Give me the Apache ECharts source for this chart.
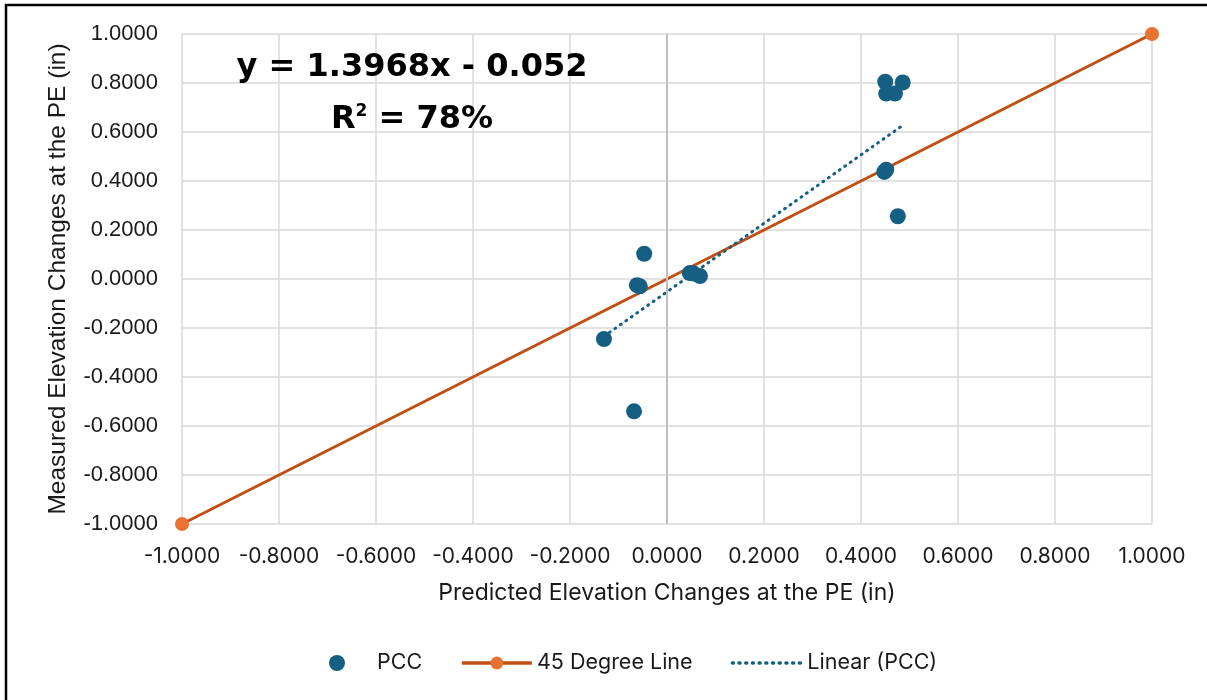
<!DOCTYPE html>
<html>
<head>
<meta charset="utf-8">
<title>PCC elevation changes</title>
<script src="https://cdn.jsdelivr.net/npm/echarts@6/dist/echarts.min.js"></script>
<style>
  html, body { margin: 0; padding: 0; background: #fff; }
  #main { width: 1207px; height: 700px; }
</style>
</head>
<body>
<div id="main"></div>
<script>
// predicted (x) vs measured (y) elevation change, inches
var pccX = [-0.130, -0.068, -0.047, -0.062, -0.056, 0.047, 0.055, 0.068,
            0.450, 0.486, 0.452, 0.470, 0.448, 0.452, 0.476];
var pccY = [-0.245, -0.540, 0.103, -0.025, -0.030, 0.024, 0.022, 0.012,
            0.805, 0.802, 0.757, 0.757, 0.437, 0.446, 0.256];

var degX = [-1, 1];
var degY = [-1, 1];

// ends of the excel trendline
var trendX = [-0.130, 0.486];
var trendY = [-0.234, 0.627];

var tickLabels = ["-1.0000", "-0.8000", "-0.6000", "-0.4000", "-0.2000", "0.0000",
                  "0.2000", "0.4000", "0.6000", "0.8000", "1.0000"];

function pairs(xs, ys) {
  return xs.map(function (x, i) { return [x, ys[i]]; });
}
function tickText(v) {
  var idx = Math.round((v + 1) / 0.2);
  return tickLabels[idx] !== undefined ? tickLabels[idx] : "";
}

var blue = "#156082";
var chart = echarts.init(document.getElementById("main"));

var option = {
  animation: false,
  backgroundColor: "#fff",
  grid: { left: 182, right: 55, top: 34, bottom: 176 },
  xAxis: {
    type: "value",
    min: -1, max: 1, interval: 0.2,
    name: "Predicted Elevation Changes at the PE (in)",
    nameLocation: "middle",
    nameGap: 58,
    nameTextStyle: { fontFamily: "Inter", fontSize: 23, color: "#1a1a1a" },
    axisLine: { show: false },
    axisTick: { show: false },
    axisLabel: { formatter: tickText, margin: 22, fontFamily: "Inter", fontSize: 21, color: "#1a1a1a" },
    splitLine: { lineStyle: { color: "#d9d9d9", width: 1.5 } }
  },
  yAxis: {
    type: "value",
    min: -1, max: 1, interval: 0.2,
    name: "Measured Elevation Changes at the PE (in)",
    nameLocation: "middle",
    nameGap: 111,
    nameTextStyle: { fontFamily: "Liberation Sans", fontSize: 24.5, color: "#1a1a1a" },
    axisLine: { show: false },
    axisTick: { show: false },
    axisLabel: { formatter: tickText, margin: 24, fontFamily: "Liberation Sans", fontSize: 22, color: "#1a1a1a" },
    splitLine: { lineStyle: { color: "#d9d9d9", width: 1.5 } }
  },
  legend: {
    bottom: 21,
    left: 324,
    itemWidth: 70,
    itemHeight: 16,
    itemGap: 38,
    textStyle: { fontFamily: "Inter", fontSize: 21.5, color: "#1a1a1a" },
    data: [
      "PCC",
      { name: "45 Degree Line", lineStyle: { width: 3.5 } },
      { name: "Linear (PCC)", itemStyle: { opacity: 0 }, lineStyle: { width: 3.5 } }
    ]
  },
  series: [
    {
      name: "45 Degree Line",
      type: "line",
      z: 2,
      data: pairs(degX, degY),
      symbol: "circle",
      symbolSize: 14,
      itemStyle: { color: "#E97132" },
      lineStyle: { color: "#C04F15", width: 3 }
    },
    {
      name: "Linear (PCC)",
      type: "line",
      z: 3,
      data: pairs(trendX, trendY),
      symbol: "none",
      itemStyle: { color: blue },
      lineStyle: { color: blue, width: 3, type: [1, 5.7], cap: "round" }
    },
    {
      name: "PCC",
      type: "scatter",
      z: 4,
      data: pairs(pccX, pccY),
      symbolSize: 16,
      itemStyle: { color: blue, opacity: 1 },
      markLine: {
        silent: true,
        symbol: "none",
        label: { show: false },
        lineStyle: { color: "#bfbfbf", width: 2, type: "solid" },
        data: [{ xAxis: 0 }]
      }
    }
  ],
  graphic: [
    {
      type: "rect",
      silent: true,
      z: 100,
      shape: { x: 6, y: 5, width: 1400, height: 1000 },
      style: { fill: "none", stroke: "#000", lineWidth: 2.5 }
    },
    {
      type: "text",
      z: 100,
      x: 412, y: 68,
      style: {
        text: "y = 1.3968x - 0.052",
        fill: "#000",
        font: "bold 32px 'DejaVu Sans'",
        align: "center",
        verticalAlign: "middle"
      }
    },
    {
      type: "text",
      z: 100,
      x: 412, y: 120,
      style: {
        text: "{b|R}{s|2}{b| = 78%}",
        align: "center",
        verticalAlign: "middle",
        rich: {
          b: { fontFamily: "DejaVu Sans", fontWeight: "bold", fontSize: 32, color: "#000" },
          s: { fontFamily: "DejaVu Sans", fontWeight: "bold", fontSize: 17, color: "#000", verticalAlign: "top", padding: [0, 0, 16, 0] }
        }
      }
    }
  ]
};

chart.setOption(option);
</script>
</body>
</html>
